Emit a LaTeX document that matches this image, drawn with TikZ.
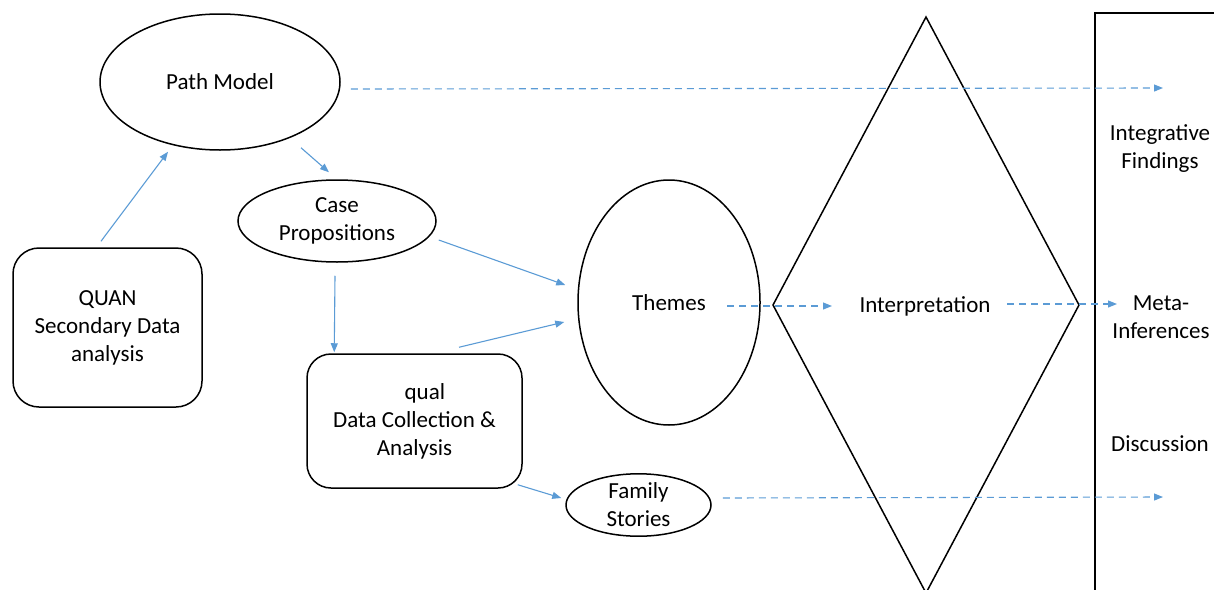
\documentclass[tikz,border=0pt]{standalone}
\usepackage{fontspec}
\setmainfont{Carlito}
\usetikzlibrary{shapes.geometric,arrows.meta}
\definecolor{acc}{RGB}{91,155,213}
\tikzset{
  every node/.style={font=\fontsize{11.5}{14}\selectfont, align=center},
  oval/.style={ellipse, draw=black, line width=0.75pt, inner sep=0pt},
  rbox/.style={rectangle, draw=black, line width=0.75pt, inner sep=0pt},
  arr/.style={draw=acc, line width=0.55pt, -{Triangle[length=4.5pt,width=3.5pt]}},
  darr/.style={arr, dash pattern=on 3.5pt off 2.5pt},
  lbl/.style={inner sep=1pt}
}
\begin{document}
\begin{tikzpicture}[x=0.5pt,y=-0.5pt]
\useasboundingbox (0,0) rectangle (1214,589);
\clip (0,0) rectangle (1214,589);
% nodes
\node[oval, minimum width=120pt, minimum height=68pt] (pm) at (220,82) {Path Model};
\node[oval, minimum width=99pt, minimum height=41pt] (cp) at (337,221) {Case\\Propositions};
\node[rbox, rounded corners=13pt, minimum width=94.5pt, minimum height=79.5pt] (quan) at (107.5,327.5) {QUAN\\Secondary Data\\analysis};
\node[rbox, rounded corners=12pt, minimum width=107.5pt, minimum height=67pt] (qual) at (414.5,421) {\hspace*{0.9em}qual\\Data Collection \&\\Analysis};
\node[oval, minimum width=91pt, minimum height=122.5pt] (themes) at (669,302.5) {Themes};
\node[oval, minimum width=72.5pt, minimum height=30pt] (fs) at (638.5,505) {Family\\Stories};
% diamond
\draw[line width=0.75pt] (926,17) -- (1079,305) -- (926,593) -- (773,305) -- cycle;
\node[lbl] (interp) at (925,306) {Interpretation};
% right box
\draw[line width=0.75pt] (1230,13) -- (1095,13) -- (1095,620);
\node[lbl] (intf) at (1160,149) {Integrative\\Findings};
\node[lbl] (meta) at (1161,317) {Meta-\\Inferences};
\node[lbl] (disc) at (1160,444) {Discussion};
\coordinate (endtop) at (1163,88);
\coordinate (endbot) at (1163,497);
% connectors
\draw[arr] ([shift={(-6.5,-6)}]quan.north) -- ([shift={(-52,1)}]pm.south);
\draw[arr] ([shift={(81,-3)}]pm.south) -- ([shift={(-8,-7)}]cp.north);
\draw[darr] ([shift={(10,7)}]pm.east) -- (endtop);
\draw[arr] ([shift={(2,19)}]cp.east) -- ([shift={(-12,-17.5)}]themes.west);
\draw[arr] ([shift={(-2,13)}]cp.south) -- ([shift={(28,-1)}]qual.north west);
\draw[arr] ([shift={(44.5,-6)}]qual.north) -- ([shift={(-13,19.5)}]themes.west);
\draw[arr] ([shift={(-5,-4)}]qual.south east) -- ([shift={(-4,-7)}]fs.west);
\draw[darr] ([shift={(11,-7)}]fs.east) -- (endbot);
\draw[darr] ([shift={(58,3.5)}]themes.center) -- ([shift={(-93,0)}]interp.center);
\draw[darr] ([shift={(82,-2)}]interp.center) -- ([shift={(-44,-13)}]meta.center);
\end{tikzpicture}
\end{document}
